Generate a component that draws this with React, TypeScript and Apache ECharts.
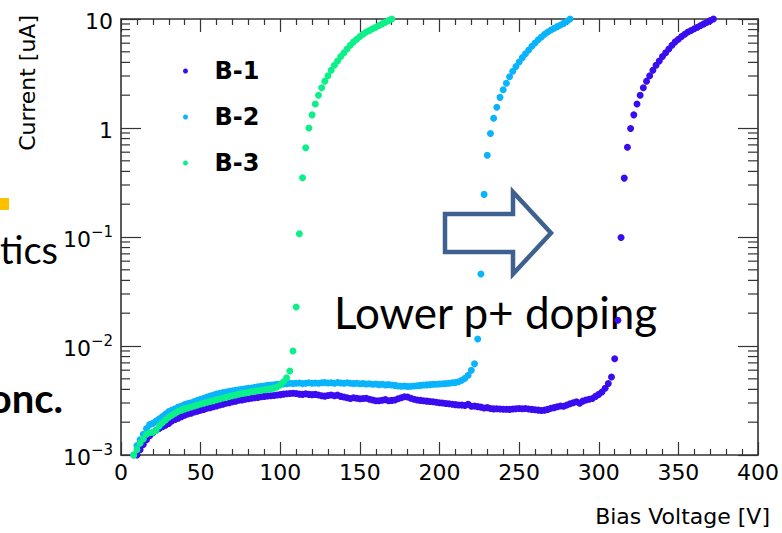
import React, { useEffect, useRef } from 'react';
import * as echarts from 'echarts';

// Bias voltage sweep [V] (shared grid for all samples)
const VOLTAGES = [
  8, 10, 12, 14, 16, 18, 20, 22, 24, 26, 28, 30, 32, 34, 36, 38, 40, 42, 44, 46,
  48, 50, 52, 54, 56, 58, 60, 62, 64, 66, 68, 70, 72, 74, 76, 78, 80, 82, 84, 86,
  88, 90, 92, 94, 96, 98, 100, 102, 104, 106, 108, 110, 112, 114, 116, 118, 120, 122, 124, 126,
  128, 130, 132, 134, 136, 138, 140, 142, 144, 146, 148, 150, 152, 154, 156, 158, 160, 162, 164, 166,
  168, 170, 172, 174, 176, 178, 180, 182, 184, 186, 188, 190, 192, 194, 196, 198, 200, 202, 204, 206,
  208, 210, 212, 214, 216, 218, 220, 222, 224, 226, 228, 230, 232, 234, 236, 238, 240, 242, 244, 246,
  248, 250, 252, 254, 256, 258, 260, 262, 264, 266, 268, 270, 272, 274, 276, 278, 280, 282, 284, 286,
  288, 290, 292, 294, 296, 298, 300, 302, 304, 306, 308, 310, 312, 314, 316, 318, 320, 322, 324, 326,
  328, 330, 332, 334, 336, 338, 340, 342, 344, 346, 348, 350, 352, 354, 356, 358, 360, 362, 364, 366,
  368, 370, 372,
];

// Currents [uA], index-aligned with VOLTAGES
const B1_CURRENT = [
  null, 0.00100, 0.00112, 0.00125, 0.00138, 0.00150, 0.00160, 0.00168, 0.00175, 0.00182, 0.00188, 0.00195, 0.00205, 0.00212, 0.00218, 0.00225, 0.00232, 0.00238, 0.00242, 0.00248,
  0.00252, 0.00258, 0.00262, 0.00268, 0.00272, 0.00278, 0.00282, 0.00288, 0.00292, 0.00298, 0.00302, 0.00308, 0.00312, 0.00318, 0.00320, 0.00325, 0.00328, 0.00332, 0.00335, 0.00338,
  0.00342, 0.00345, 0.00348, 0.00350, 0.00352, 0.00355, 0.00358, 0.00362, 0.00365, 0.00366, 0.00368, 0.00366, 0.00362, 0.00360, 0.00364, 0.00360, 0.00358, 0.00360, 0.00355, 0.00350,
  0.00347, 0.00352, 0.00355, 0.00350, 0.00354, 0.00345, 0.00340, 0.00335, 0.00330, 0.00335, 0.00332, 0.00328, 0.00330, 0.00332, 0.00325, 0.00320, 0.00315, 0.00314, 0.00318, 0.00322,
  0.00315, 0.00317, 0.00320, 0.00328, 0.00335, 0.00342, 0.00340, 0.00332, 0.00325, 0.00320, 0.00317, 0.00315, 0.00312, 0.00310, 0.00308, 0.00305, 0.00302, 0.00300, 0.00297, 0.00295,
  0.00292, 0.00290, 0.00288, 0.00287, 0.00285, 0.00292, 0.00280, 0.00281, 0.00278, 0.00275, 0.00270, 0.00272, 0.00267, 0.00265, 0.00266, 0.00264, 0.00263, 0.00263, 0.00262, 0.00264,
  0.00266, 0.00267, 0.00266, 0.00267, 0.00264, 0.00262, 0.00260, 0.00258, 0.00256, 0.00258, 0.00262, 0.00268, 0.00272, 0.00277, 0.00282, 0.00280, 0.00288, 0.00295, 0.00302, 0.00308,
  0.00298, 0.00312, 0.00320, 0.00325, 0.00330, 0.00345, 0.00360, 0.00379, 0.00410, 0.00452, 0.00520, 0.00765, 0.0172, 0.099, 0.347, 0.665, 0.99, 1.32, 1.66, 2.00,
  2.34, 2.69, 3.02, 3.39, 3.76, 4.12, 4.52, 4.90, 5.31, 5.75, 6.17, 6.53, 6.92, 7.24, 7.59, 7.85, 8.13, 8.41, 8.71, 9.02,
  9.33, 9.66, 10.0,
];

const B2_CURRENT = [
  0.00100, 0.00122, 0.00138, 0.00155, 0.00175, 0.00190, 0.00195, 0.00205, 0.00215, 0.00225, 0.00238, 0.00250, 0.00258, 0.00265, 0.00275, 0.00282, 0.00290, 0.00296, 0.00302, 0.00310,
  0.00318, 0.00325, 0.00332, 0.00340, 0.00348, 0.00355, 0.00362, 0.00368, 0.00374, 0.00378, 0.00385, 0.00388, 0.00392, 0.00397, 0.00400, 0.00405, 0.00410, 0.00412, 0.00418, 0.00422,
  0.00428, 0.00430, 0.00435, 0.00438, 0.00440, 0.00445, 0.00445, 0.00448, 0.00450, 0.00455, 0.00452, 0.00455, 0.00458, 0.00452, 0.00455, 0.00460, 0.00455, 0.00458, 0.00455, 0.00460,
  0.00462, 0.00458, 0.00460, 0.00455, 0.00462, 0.00458, 0.00455, 0.00460, 0.00455, 0.00452, 0.00455, 0.00450, 0.00452, 0.00448, 0.00450, 0.00445, 0.00448, 0.00442, 0.00445, 0.00440,
  0.00442, 0.00438, 0.00435, 0.00430, 0.00428, 0.00430, 0.00425, 0.00428, 0.00430, 0.00432, 0.00435, 0.00438, 0.00440, 0.00442, 0.00445, 0.00445, 0.00448, 0.00450, 0.00452, 0.00455,
  0.00460, 0.00462, 0.00470, 0.00485, 0.00505, 0.00540, 0.00600, 0.00686, 0.0116, 0.0458, 0.246, 0.562, 0.891, 1.23, 1.55, 1.91, 2.24, 2.57, 2.95, 3.31,
  3.67, 4.03, 4.42, 4.79, 5.19, 5.62, 6.03, 6.46, 6.84, 7.24, 7.59, 7.94, 8.22, 8.51, 8.81, 9.12, 9.55, 10.0,
];

const B3_CURRENT = [
  0.00100, 0.00112, 0.00128, 0.00140, 0.00155, 0.00160, 0.00162, 0.00168, 0.00185, 0.00198, 0.00210, 0.00222, 0.00232, 0.00242, 0.00252, 0.00258, 0.00265, 0.00270, 0.00276, 0.00282,
  0.00288, 0.00294, 0.00298, 0.00305, 0.00310, 0.00315, 0.00322, 0.00327, 0.00333, 0.00338, 0.00345, 0.00350, 0.00355, 0.00362, 0.00366, 0.00370, 0.00375, 0.00380, 0.00385, 0.00388,
  0.00392, 0.00397, 0.00400, 0.00405, 0.00410, 0.00420, 0.00440, 0.00470, 0.00510, 0.00590, 0.00900, 0.0228, 0.107, 0.350, 0.66, 1.00, 1.32, 1.66, 2.00, 2.34,
  2.69, 3.02, 3.39, 3.76, 4.12, 4.52, 4.90, 5.31, 5.75, 6.17, 6.53, 6.92, 7.24, 7.59, 7.85, 8.13, 8.41, 8.71, 9.02, 9.33,
  9.66, 10.0,
];

const SERIES_NAMES = ['B-1', 'B-2', 'B-3'];
const SERIES_CURRENTS = [B1_CURRENT, B2_CURRENT, B3_CURRENT];
const SERIES_COLORS = ['#3a0cf0', '#0ab4fc', '#0cf08a'];

// Log-axis minor tick positions [uA]
const Y_MINOR_TICKS = [
  0.002, 0.003, 0.004, 0.005, 0.006, 0.007, 0.008, 0.009,
  0.02, 0.03, 0.04, 0.05, 0.06, 0.07, 0.08, 0.09,
  0.2, 0.3, 0.4, 0.5, 0.6, 0.7, 0.8, 0.9,
  2, 3, 4, 5, 6, 7, 8, 9,
];

const X_TITLE = 'Bias Voltage [V]';
const Y_TITLE = 'Current [uA]';
const ANNOTATION = 'Lower p+ doping';

const ROOT_FONT = 'DejaVu Sans';
const SLIDE_FONT = 'Lato';
const AXIS_COLOR = '#333333';

function toPairs(currents: (number | null)[]) {
  const out: number[][] = [];
  currents.forEach((c, i) => {
    if (c != null) out.push([VOLTAGES[i], c]);
  });
  return out;
}

function yLabel(v: number) {
  const e = Math.round(Math.log10(v));
  if (e === 1) return '{n|10}';
  if (e === 0) return '{n|1}';
  return '{n|10}{s|\u2212' + -e + '}';
}

export default function App() {
  const ref = useRef<HTMLDivElement>(null);

  useEffect(() => {
    document.body.style.margin = '0';
    const chart = echarts.init(ref.current as HTMLDivElement, null, { renderer: 'svg' });

    const axisLine = { show: true, onZero: false, lineStyle: { color: AXIS_COLOR, width: 1.6 } };
    const tickStyle = { color: AXIS_COLOR, width: 1.2 };

    const xBase = {
      type: 'value',
      min: 0,
      max: 400,
      interval: 50,
      axisLine,
      axisTick: { show: true, inside: true, length: 13, lineStyle: tickStyle },
      minorTick: { show: true, splitNumber: 5, length: 6, lineStyle: tickStyle },
      splitLine: { show: false },
      minorSplitLine: { show: false },
    };
    const yBase = {
      type: 'log',
      logBase: 10,
      min: 0.001,
      max: 10,
      axisLine,
      axisTick: { show: true, inside: true, length: 20, lineStyle: tickStyle },
      splitLine: { show: false },
    };

    const option: any = {
      animation: false,
      backgroundColor: '#ffffff',
      grid: { left: 121, right: 17, top: 19, bottom: 78 },
      legend: {
        data: SERIES_NAMES,
        orient: 'vertical',
        left: 178,
        top: 54,
        itemGap: 22,
        itemWidth: 10,
        itemHeight: 5,
        icon: 'circle',
        selectedMode: false,
        textStyle: {
          fontFamily: ROOT_FONT,
          fontWeight: 'bold',
          fontSize: 24,
          color: '#000',
          lineHeight: 22,
          padding: [0, 0, 0, 19],
        },
      },
      xAxis: [
        {
          ...xBase,
          position: 'bottom',
          axisLabel: { show: true, margin: 6, fontSize: 22, fontFamily: ROOT_FONT, color: '#000' },
        },
        { ...xBase, position: 'top', axisLabel: { show: false } },
      ],
      yAxis: [
        {
          ...yBase,
          position: 'left',
          axisLabel: {
            show: true,
            margin: 8,
            formatter: yLabel,
            rich: {
              n: { fontSize: 22, fontFamily: ROOT_FONT, color: '#000', lineHeight: 26, verticalAlign: 'bottom' },
              s: { fontSize: 15, fontFamily: ROOT_FONT, color: '#000', lineHeight: 12, verticalAlign: 'top' },
            },
          },
        },
        { ...yBase, position: 'right', axisLabel: { show: false } },
      ],
      series: [
        ...SERIES_NAMES.map((name, k) => ({
          type: 'scatter',
          name,
          xAxisIndex: 0,
          yAxisIndex: 0,
          symbol: 'circle',
          symbolSize: 7,
          clip: false,
          itemStyle: { color: SERIES_COLORS[k], opacity: 1 },
          emphasis: { disabled: true },
          data: toPairs(SERIES_CURRENTS[k]),
          z: 2 + k,
        })),
        {
          type: 'custom',
          name: 'minor-ticks',
          xAxisIndex: 0,
          yAxisIndex: 0,
          silent: true,
          clip: false,
          z: 10,
          data: Y_MINOR_TICKS.map((v) => [0, v]),
          renderItem: (_params: any, api: any) => {
            const v = api.value(1);
            const l = api.coord([0, v]);
            const r = api.coord([400, v]);
            return {
              type: 'group',
              children: [
                { type: 'line', shape: { x1: l[0], y1: l[1], x2: l[0] + 9, y2: l[1] }, style: { stroke: AXIS_COLOR, lineWidth: 1.2 } },
                { type: 'line', shape: { x1: r[0], y1: r[1], x2: r[0] - 10, y2: r[1] }, style: { stroke: AXIS_COLOR, lineWidth: 1.2 } },
              ],
            };
          },
        },
      ],
      graphic: [
        {
          type: 'text',
          x: 27,
          y: 15,
          rotation: Math.PI / 2,
          style: { text: Y_TITLE, fontSize: 22, fontFamily: ROOT_FONT, fill: '#000', align: 'right', verticalAlign: 'middle' },
        },
        {
          type: 'text',
          x: 770,
          y: 516,
          style: { text: X_TITLE, fontSize: 22, fontFamily: ROOT_FONT, fill: '#000', align: 'right', verticalAlign: 'middle' },
        },
        { type: 'rect', shape: { x: 0, y: 198, width: 9, height: 12 }, style: { fill: '#ffc000' } },
        {
          type: 'text',
          x: 58,
          y: 249,
          style: { text: 'tics', fontSize: 38, fontFamily: SLIDE_FONT, fill: '#000', align: 'right', verticalAlign: 'middle' },
        },
        {
          type: 'text',
          x: 63,
          y: 398,
          style: { text: 'onc.', fontSize: 40, fontWeight: 'bold', fontFamily: SLIDE_FONT, fill: '#000', align: 'right', verticalAlign: 'middle' },
        },
        {
          type: 'polygon',
          shape: { points: [[445, 214], [513, 214], [513, 192], [551, 233], [513, 274], [513, 252], [445, 252]] },
          style: { fill: 'none', stroke: '#3f6190', lineWidth: 4.5, lineJoin: 'miter' },
        },
        {
          type: 'text',
          x: 334,
          y: 312,
          style: { text: ANNOTATION, fontSize: 44, fontFamily: SLIDE_FONT, fill: '#000', align: 'left', verticalAlign: 'middle' },
        },
      ],
    };

    chart.setOption(option);
    return () => chart.dispose();
  }, []);

  return <div ref={ref} style={{ width: 782, height: 533 }} />;
}
